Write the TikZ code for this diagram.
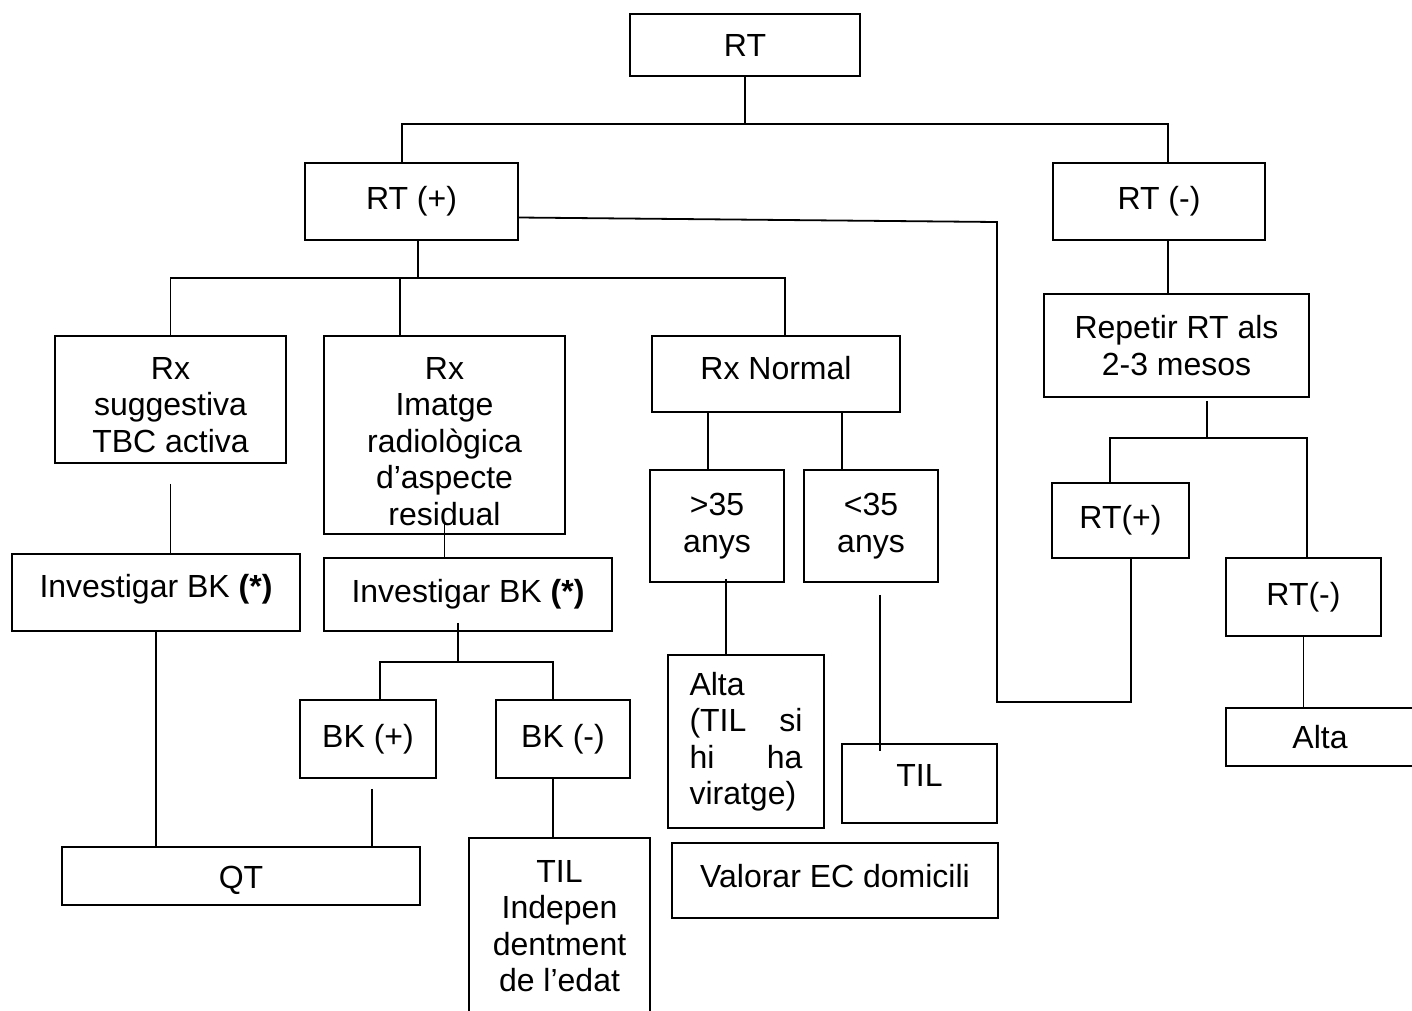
\documentclass[tikz,border=0pt]{standalone}
\usepackage{fontspec}
\setmainfont{Liberation Sans}
\usepackage{tikz}

\tikzset{
  box/.style={draw, rectangle, line width=1.8pt, inner sep=0pt, align=center},
}

\begin{document}
\begin{tikzpicture}[x=1pt, y=-1pt, line width=1.8pt,
    every node/.style={font=\fontsize{32}{36.5}\selectfont}]
    \useasboundingbox (0,0) rectangle (1412,1010);
    \clip (0,0) rectangle (1412,1010);

    % top
    \node[box, minimum width=230pt, minimum height=62pt] (rt) at (745,45) {RT};
    \node[box, minimum width=213pt, minimum height=77pt] (rtpos) at (411.5,201.5) {RT (+)};
    \node[box, minimum width=212pt, minimum height=77pt] (rtneg) at (1159,201.5) {RT (-)};

    % RT (+) branch
    \node[box, minimum width=231pt, minimum height=127pt] (rxsug) at (170.5,399.5) {\rule{0pt}{33pt}Rx\\suggestiva\\TBC activa};
    \node[box, minimum width=241pt, minimum height=198pt] (rximg) at (444.5,435) {\rule{0pt}{35pt}Rx\\Imatge\\radiològica\\d’aspecte\\residual};
    \node[box, minimum width=248pt, minimum height=76pt, text depth=12pt] (rxnorm) at (776,374) {Rx Normal};
    \node[box, minimum width=288pt, minimum height=77pt, text depth=13pt] (invbka) at (156,592.5) {Investigar BK \textbf{(*)}};
    \node[box, minimum width=288pt, minimum height=73pt] (invbkb) at (468,594.5) {Investigar BK \textbf{(*)}};
    \node[box, minimum width=136pt, minimum height=78pt] (bkpos) at (368,739) {BK (+)};
    \node[box, minimum width=134pt, minimum height=78pt] (bkneg) at (563,739) {BK (-)};
    \node[box, minimum width=358pt, minimum height=58pt, text height=31pt] (qt) at (241,876) {QT};
    \node[box, minimum width=181pt, minimum height=176pt] (tilind) at (559.5,926) {TIL\\Indepen\\dentment\\de l’edat};
    \node[box, minimum width=134pt, minimum height=112pt] (over35) at (717,526) {>35\\anys};
    \node[box, minimum width=134pt, minimum height=112pt] (under35) at (871,526) {<35\\anys};
    \node[box, minimum width=156pt, minimum height=173pt, text width=113pt, align=left] (altatil) at (746,741.5)
        {Alta\\(TIL\hfill si\\hi\hfill ha\\viratge)};
    \node[box, minimum width=155pt, minimum height=79pt, text depth=16pt] (til) at (919.5,783.5) {TIL};
    \node[box, minimum width=326pt, minimum height=75pt, text depth=10pt] (valorar) at (835,880.5) {Valorar EC domicili};

    % RT (-) branch
    \node[box, minimum width=265pt, minimum height=103pt] (repetir) at (1176.5,345.5) {Repetir RT als\\2-3 mesos};
    \node[box, minimum width=137pt, minimum height=75pt] (rtposb) at (1120.5,520.5) {RT(+)};
    \node[box, minimum width=155pt, minimum height=78pt] (rtnegb) at (1303.5,597) {RT(-)};
    \node[box, minimum width=188pt, minimum height=58pt] (alta) at (1320,737) {Alta};

    % junctions
    \coordinate (jtop) at (745,124);
    \coordinate (jpos) at (418,278);
    \coordinate (jbk) at (458,662);
    \coordinate (jrep) at (1207,438);
    \coordinate (kink) at (997,222);
    \coordinate (kfoot) at (997,702);

    % connectors
    \draw (rt.south) -- (jtop);
    \draw ([xshift=-9.5pt]rtpos.north) |- (jtop) -| ([xshift=9pt]rtneg.north);

    \draw ([xshift=6.5pt]rtpos.south) -- (jpos);
    \draw (rxsug.north) |- (jpos) -| ([xshift=9pt]rxnorm.north);
    \draw ([xshift=-44.5pt]rximg.north) -- ++(0,-58);

    \draw ([yshift=-20pt]rxsug.south) -- (rxsug.south |- invbka.north);
    \draw ([yshift=12pt]rximg.south) -- (rximg.south |- invbkb.north);
    \draw (invbka.south) -- (invbka.south |- qt.north);

    \draw ([xshift=-10pt,yshift=9pt]invbkb.south) -- (jbk);
    \draw ([xshift=12pt]bkpos.north) |- (jbk) -| ([xshift=-10pt]bkneg.north);
    \draw ([xshift=4pt,yshift=-10pt]bkpos.south) -- ++(0,59);
    \draw ([xshift=-10pt]bkneg.south) -- ++(0,60);

    \draw ([xshift=-9pt]over35.north) -- ++(0,-58);
    \draw ([xshift=-29pt]under35.north) -- ++(0,-58);
    \draw ([xshift=9pt,yshift=4pt]over35.south) -- ++(0,77);
    \draw ([xshift=9pt,yshift=-12pt]under35.south) -- ++(0,156);

    \draw ([yshift=-16pt]rtpos.east) -- (kink) -- (kfoot) -| ([xshift=10.5pt]rtposb.south);

    \draw ([xshift=9pt]rtneg.south) -- ++(0,54);
    \draw ([xshift=30.5pt,yshift=-3pt]repetir.south) -- (jrep);
    \draw ([xshift=-10.5pt]rtposb.north) |- (jrep) -| ([xshift=3.5pt]rtnegb.north);
    \draw (rtnegb.south) -- (rtnegb.south |- alta.north);
\end{tikzpicture}
\end{document}
